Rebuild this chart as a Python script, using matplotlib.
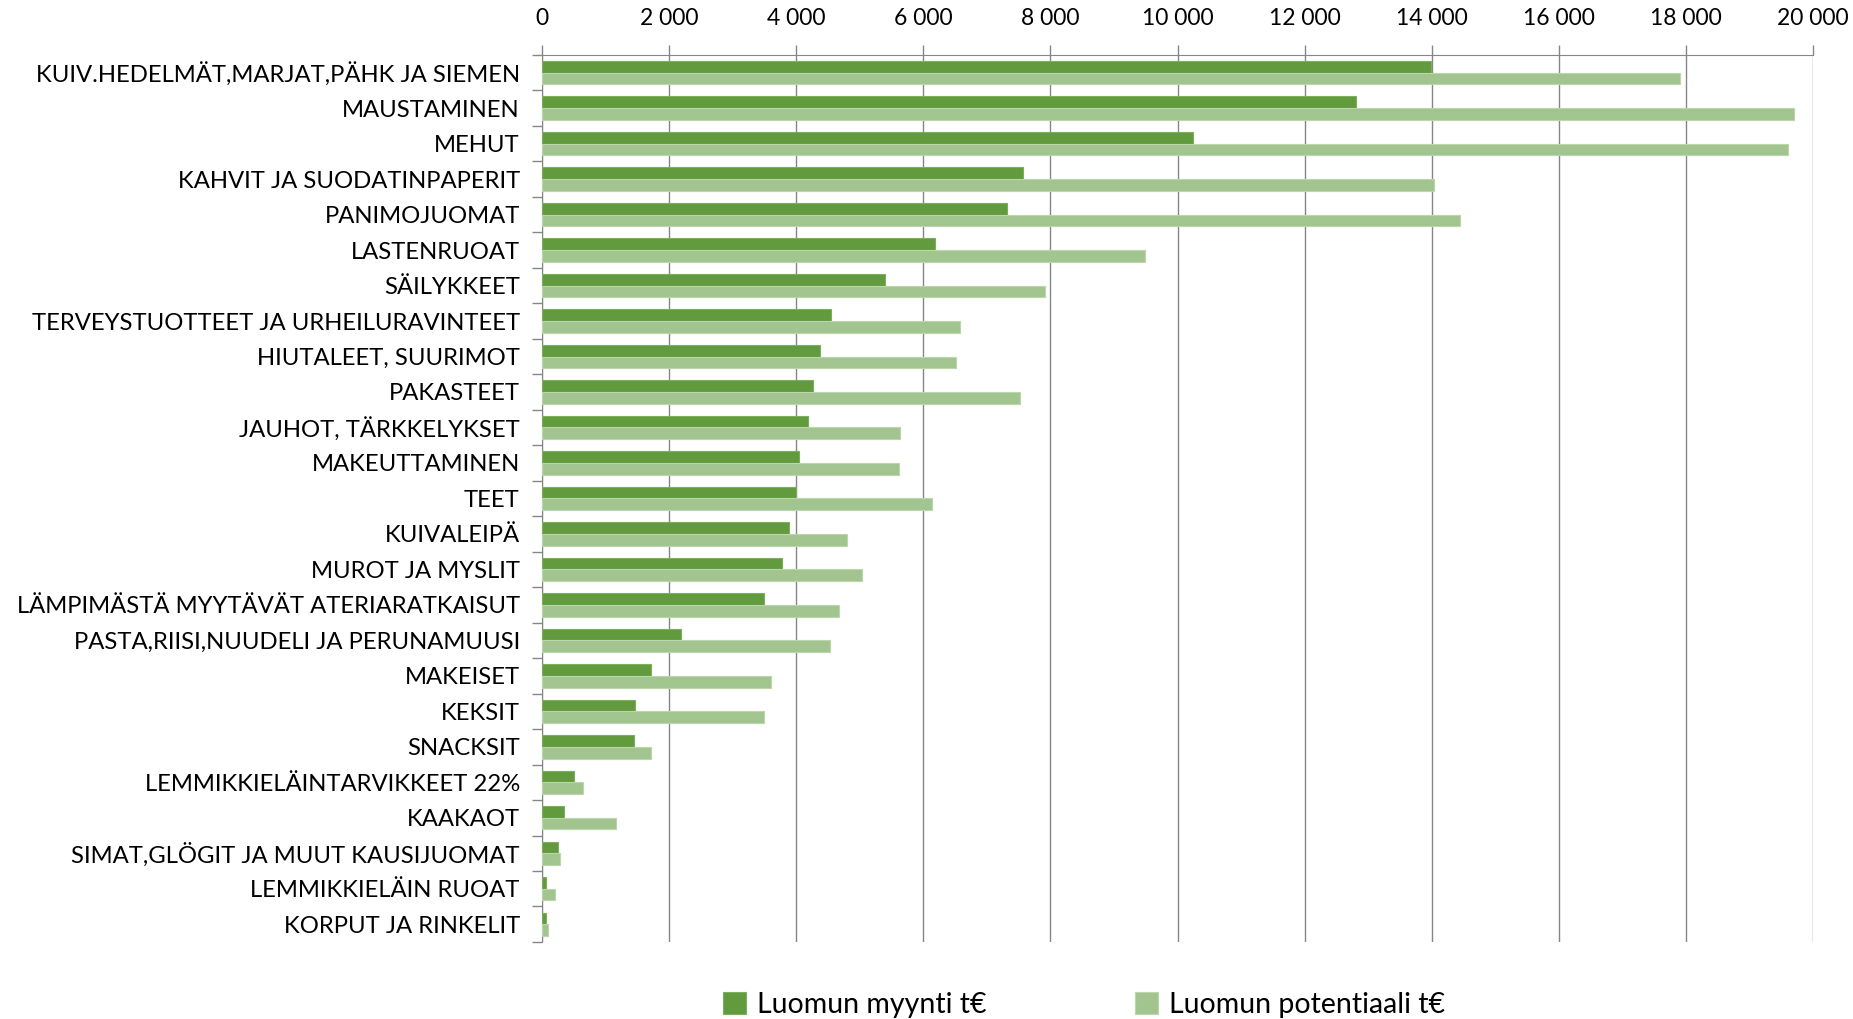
import numpy as np
import matplotlib.pyplot as plt
from matplotlib.ticker import FuncFormatter, MultipleLocator

# Category names, top to bottom as in the chart
categories = [
    'KUIV.HEDELMÄT,MARJAT,PÄHK JA SIEMEN', 'MAUSTAMINEN', 'MEHUT',
    'KAHVIT JA SUODATINPAPERIT', 'PANIMOJUOMAT', 'LASTENRUOAT', 'SÄILYKKEET',
    'TERVEYSTUOTTEET JA URHEILURAVINTEET', 'HIUTALEET, SUURIMOT', 'PAKASTEET',
    'JAUHOT, TÄRKKELYKSET', 'MAKEUTTAMINEN', 'TEET', 'KUIVALEIPÄ',
    'MUROT JA MYSLIT', 'LÄMPIMÄSTÄ MYYTÄVÄT ATERIARATKAISUT',
    'PASTA,RIISI,NUUDELI JA PERUNAMUUSI', 'MAKEISET', 'KEKSIT', 'SNACKSIT',
    'LEMMIKKIELÄINTARVIKKEET 22%', 'KAAKAOT', 'SIMAT,GLÖGIT JA MUUT KAUSIJUOMAT',
    'LEMMIKKIELÄIN RUOAT', 'KORPUT JA RINKELIT',
]

# Luomun myynti t€ (dark green)
myynti = [13980, 12800, 10240, 7560, 7310, 6180, 5400, 4550, 4380, 4260,
          4190, 4040, 3990, 3890, 3780, 3490, 2180, 1720, 1460, 1440,
          510, 340, 250, 60, 60]

# Luomun potentiaali t€ (light green)
potentiaali = [17900, 19700, 19610, 14030, 14440, 9480, 7910, 6570, 6510, 7520,
               5640, 5620, 6130, 4800, 5030, 4680, 4530, 3600, 3490, 1720,
               640, 1160, 290, 210, 100]

dark = '#619B3D'
light = '#A2C590'

plt.rcParams['font.family'] = ['Lato', 'DejaVu Sans']

fig = plt.figure(figsize=(18.53, 10.19), dpi=100)
ax = fig.add_axes([0.2925, 0.0756, 0.686, 0.8705])

y = np.arange(len(categories))
h = 0.33
ax.barh(y - h / 2, myynti, height=h, color=dark, edgecolor='#7DAE5E', linewidth=0.8,
        label='Luomun myynti t€', zorder=3)
ax.barh(y + h / 2, potentiaali, height=h, color=light, edgecolor='#BBD6AB', linewidth=0.8,
        label='Luomun potentiaali t€', zorder=3)

ax.set_ylim(len(categories) - 0.5, -0.5)
ax.set_xlim(0, 20000)

# value axis on top
ax.xaxis.tick_top()
ax.xaxis.set_major_locator(MultipleLocator(2000))
ax.xaxis.set_major_formatter(FuncFormatter(lambda v, p: f'{int(v):,}'.replace(',', ' ')))
ax.tick_params(axis='x', length=7, width=1, color='#868686', labelsize=16.5, pad=12)
ax.grid(axis='x', color='#868686', linewidth=1, zorder=0)

# category axis: labels at centres, tick marks at boundaries
ax.set_yticks(y)
ax.set_yticklabels(categories, fontsize=17.2)
ax.tick_params(axis='y', which='major', length=0, pad=16)
ax.set_yticks(np.arange(len(categories) + 1) - 0.5, minor=True)
ax.tick_params(axis='y', which='minor', length=7, width=1, color='#868686')

for side in ['right', 'bottom']:
    ax.spines[side].set_visible(False)
ax.spines['left'].set_color('#868686')
ax.spines['top'].set_color('#868686')

fig.legend(loc='center', bbox_to_anchor=(0.585, 0.0135), ncol=2, frameon=False,
           fontsize=20.5, handlelength=0.8, handleheight=0.8, handletextpad=0.4,
           columnspacing=5.2)

fig.savefig('out.png', dpi=100)
